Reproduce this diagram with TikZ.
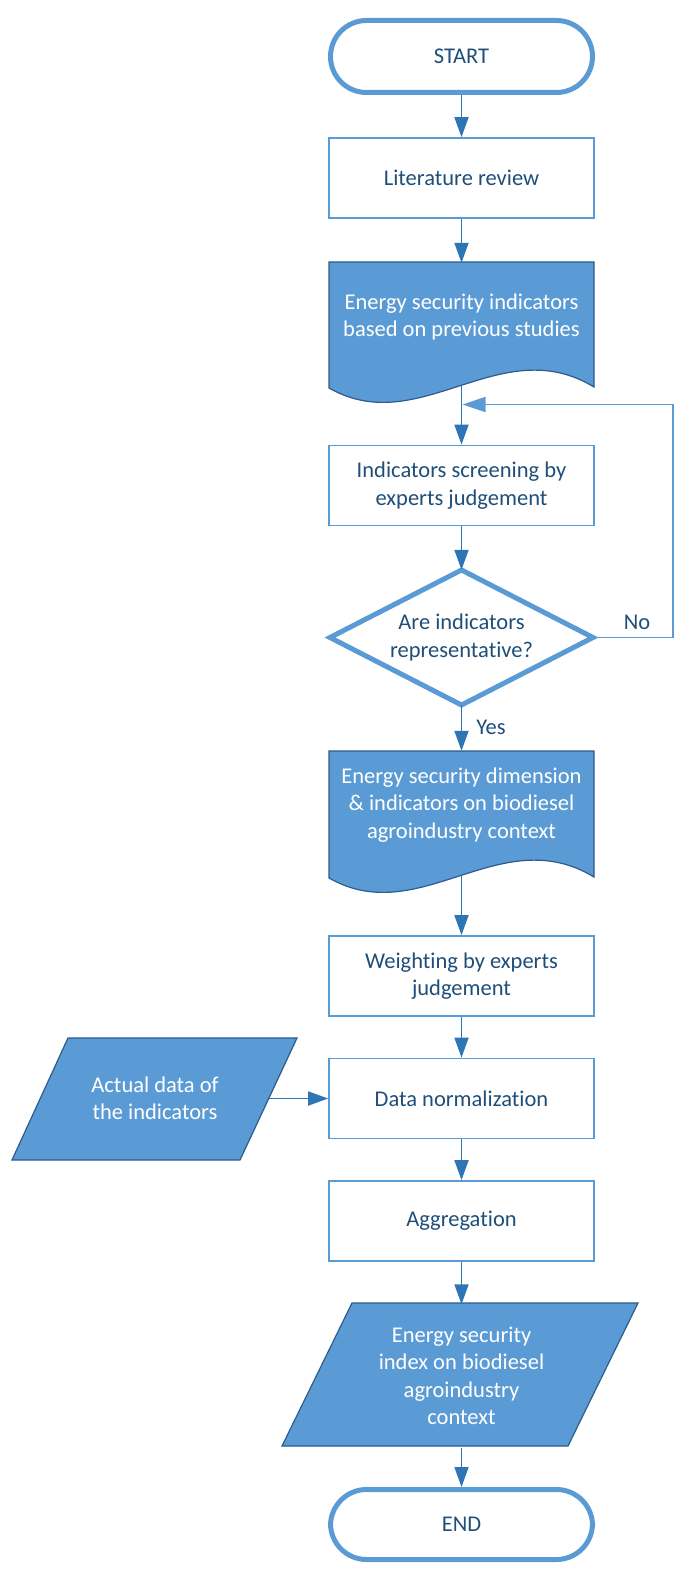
\documentclass[tikz,border=0pt]{standalone}
\usepackage{fontspec}
\setmainfont[Ligatures=NoCommon]{Carlito}
\usetikzlibrary{shapes.geometric,arrows.meta}
\definecolor{lineblue}{HTML}{5B9BD5}
\definecolor{arrowblue}{HTML}{2E75B6}
\definecolor{txtblue}{HTML}{1F4E79}
\definecolor{docedge}{HTML}{2C5B8C}
\begin{document}
\begin{tikzpicture}[x=1pt,y=-1pt,
  every node/.style={font=\fontsize{22.5}{27.5}\selectfont, text=txtblue, align=center},
  term/.style={draw=lineblue, line width=5pt, rounded corners=36pt, minimum width=262pt, minimum height=72pt, inner sep=0pt},
  procbox/.style={draw=lineblue, line width=1.8pt, minimum width=265pt, minimum height=80pt, inner sep=0pt},
  decisionline/.style={draw=lineblue, line width=5pt, line join=miter},
  textonly/.style={minimum width=265pt, inner sep=0pt, text=white},
  fillshape/.style={fill=lineblue, draw=docedge, line width=1.2pt},
  arr/.style={draw=arrowblue, line width=1.8pt, -{Triangle[width=14pt,length=20pt]}},
  fb/.style={draw=lineblue, line width=1.8pt, -{Triangle[width=15pt,length=23pt,fill=lineblue]}},
  lbl/.style={font=\fontsize{22.5}{26}\selectfont, text=txtblue}
]
\useasboundingbox (0,0) rectangle (675,1570);

% document shapes, decision and parallelograms (drawn first, text on top)
\path[fillshape] (329,262) -- (594,262) -- (594,387)
  .. controls (500,330) and (420,440) .. (329,388) -- cycle;
\path[fillshape] (329,751) -- (594,751) -- (594,877)
  .. controls (500,820) and (420,930) .. (329,878) -- cycle;
\path[fillshape] (68,1038) -- (297,1038) -- (240,1160) -- (12,1160) -- cycle;
\path[fillshape] (352,1303) -- (638,1303) -- (568,1446) -- (282,1446) -- cycle;
\path[decisionline] (461.5,570) -- (593,637.5) -- (461.5,705) -- (330,637.5) -- cycle;

% nodes
\node[term] (start) at (461.5,56.5) {START};
\node[procbox] (lit) at (461.5,178) {Literature review};
\node[textonly, minimum height=108pt] (d1) at (461.5,317) {Energy security indicators\\based on previous studies};
\coordinate (d1b) at (461.5,386);
\node[procbox] (scr) at (461.5,485.5) {Indicators screening by\\experts judgement};
\node[minimum width=263pt, minimum height=135pt, inner sep=0pt] (dia) at (461.5,637.5) {Are indicators\\representative?};
\node[textonly, minimum height=108pt] (d2) at (461.5,805) {Energy security dimension\\\& indicators on biodiesel\\agroindustry context};
\coordinate (d2b) at (461.5,875);
\node[procbox] (wei) at (461.5,976) {Weighting by experts\\judgement};
\node[procbox] (norm) at (461.5,1098.5) {Data normalization};
\node[textonly, minimum width=180pt, minimum height=122pt] (act) at (155,1098.5) {Actual data of\\the indicators};
\coordinate (acte) at (268.5,1098.5);
\node[procbox] (agg) at (461.5,1221) {Aggregation};
\node[textonly, minimum width=220pt, minimum height=143pt] (idx) at (461.5,1376) {Energy security\\index on biodiesel\\agroindustry\\context};
\node[term, minimum height=70pt] (end) at (461.5,1524.5) {END};

% connectors
\draw[arr] (start) -- (lit);
\draw[arr] (lit) -- (d1.north);
\draw[arr] (d1b) -- (scr);
\draw[arr] (scr) -- (dia.north);
\draw[arr] (dia.south) -- (d2.north);
\node[lbl] (yes) at (491,727) {Yes};
\draw[arr] (d2b) -- (wei);
\draw[arr] (wei) -- (norm);
\draw[arr] (acte) -- (norm.west);
\draw[arr] (norm) -- (agg);
\draw[arr] (agg) -- (idx.north);
\draw[arr] (idx.south) -- (end);

\coordinate (fbc) at (673,404.5);
\coordinate (fbt) at (462.5,404.5);
\draw[fb] (dia.east) -| (fbc) -- (fbt);
\node[lbl] (no) at (637,622) {No};
\end{tikzpicture}
\end{document}
